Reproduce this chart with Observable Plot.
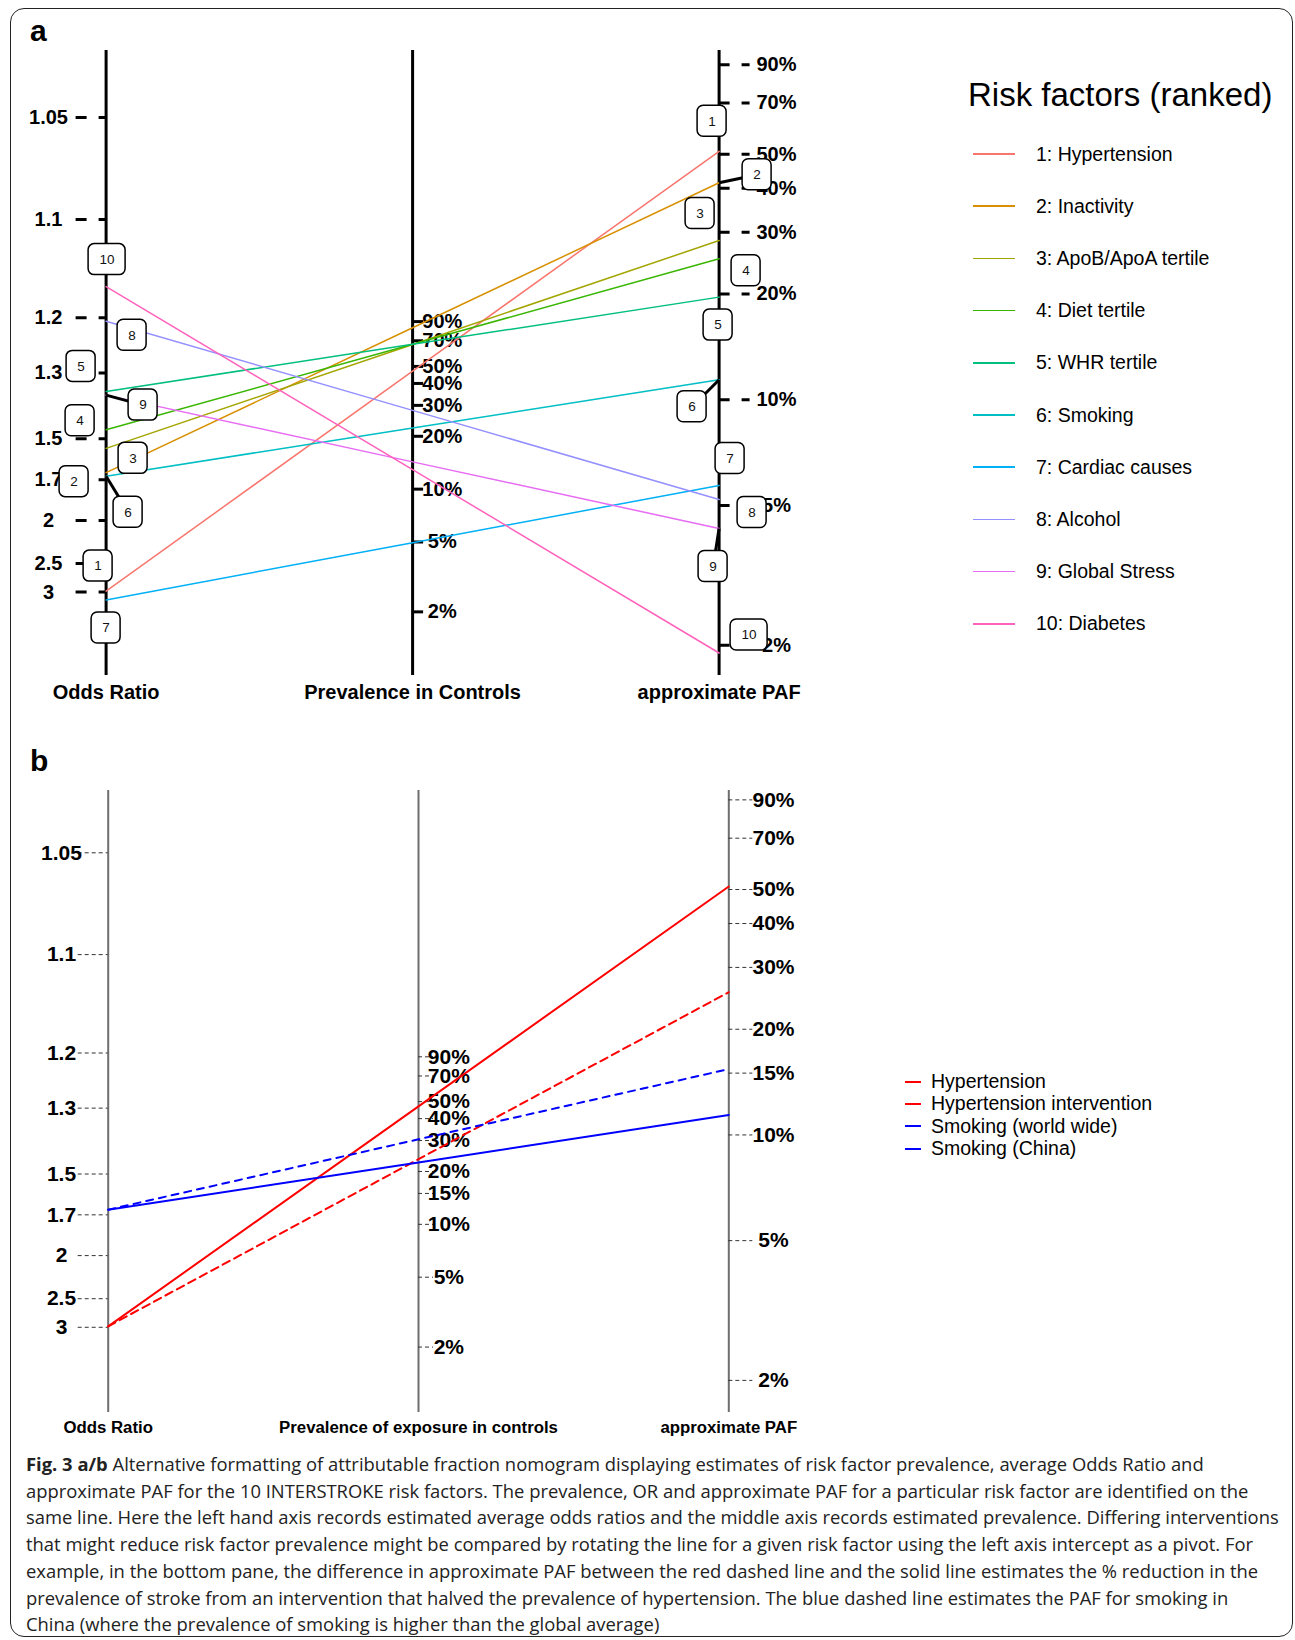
<!DOCTYPE html>
<html>
<head>
<meta charset="utf-8">
<script src="https://cdn.jsdelivr.net/npm/d3@7"></script>
<script src="https://cdn.jsdelivr.net/npm/@observablehq/plot@0.6"></script>
<style>
  body { margin: 0; background: #fff; }
  #page { position: relative; width: 1295px; height: 1640px; overflow: hidden; background: #fff;
          font-family: "Liberation Sans", Arial, sans-serif; color: #000; }
  #frame { position: absolute; left: 10px; top: 8px; width: 1283px; height: 1629px;
           border: 1.5px solid #222; border-radius: 14px; box-sizing: border-box; }
  .tag { position: absolute; font-weight: bold; font-size: 30px; line-height: 30px; }
  .chart { position: absolute; left: 0; }
  .legend-title { position: absolute; font-size: 33px; line-height: 40px; white-space: nowrap; }
  .legend-item { position: absolute; display: flex; align-items: center; white-space: nowrap; }
  #caption { position: absolute; left: 26px; top: 1451px; font-family: "Open Sans", sans-serif;
             font-size: 18.4px; line-height: 26.7px; color: #222; white-space: nowrap; }
</style>
</head>
<body>
<div id="page">
  <div id="frame"></div>
  <div class="tag" style="left:30px; top:16px;">a</div>
  <div class="tag" style="left:30px; top:746px;">b</div>
  <div id="chartA" class="chart" style="top:0px;"></div>
  <div id="legendA"></div>
  <div id="chartB" class="chart" style="top:740px;"></div>
  <div id="legendB"></div>
  <div id="caption"><b>Fig. 3 a/b</b> Alternative formatting of attributable fraction nomogram displaying estimates of risk factor prevalence, average Odds Ratio and<br>approximate PAF for the 10 INTERSTROKE risk factors. The prevalence, OR and approximate PAF for a particular risk factor are identified on the<br>same line. Here the left hand axis records estimated average odds ratios and the middle axis records estimated prevalence. Differing interventions<br>that might reduce risk factor prevalence might be compared by rotating the line for a given risk factor using the left axis intercept as a pivot. For<br>example, in the bottom pane, the difference in approximate PAF between the red dashed line and the solid line estimates the % reduction in the<br>prevalence of stroke from an intervention that halved the prevalence of hypertension. The blue dashed line estimates the PAF for smoking in<br>China (where the prevalence of smoking is higher than the global average)</div>
</div>
<script>
// ---- Panel a: the ten INTERSTROKE risk factors (ranked) ----
const factors = ["Hypertension", "Inactivity", "ApoB/ApoA tertile", "Diet tertile", "WHR tertile",
                 "Smoking", "Cardiac causes", "Alcohol", "Global Stress", "Diabetes"];
const oddsRatio  = [2.98, 1.66, 1.54, 1.465, 1.345, 1.68, 3.17, 1.205, 1.355, 1.16];
const prevalence = [0.47, 0.83, 0.667, 0.668, 0.668, 0.223, 0.0495, 0.281, 0.143, 0.129];
const approxPAF  = [0.51, 0.415, 0.284, 0.252, 0.196, 0.114, 0.057, 0.052, 0.043, 0.019];

// ---- Panel b: hypertension and smoking scenarios ----
const scenarios   = ["Hypertension", "Hypertension intervention", "Smoking (world wide)", "Smoking (China)"];
const scenarioOR   = [2.98, 2.98, 1.67, 1.67];
const scenarioPrev = [0.47, 0.235, 0.225, 0.305];
const scenarioPAF  = [0.51, 0.255, 0.114, 0.154];

// ---- Axis tick values ----
const orTicks    = [1.05, 1.1, 1.2, 1.3, 1.5, 1.7, 2, 2.5, 3];
const prevTicksA = [0.9, 0.7, 0.5, 0.4, 0.3, 0.2, 0.1, 0.05, 0.02];
const pafTicksA  = [0.9, 0.7, 0.5, 0.4, 0.3, 0.2, 0.1, 0.05, 0.02];
const prevTicksB = [0.9, 0.7, 0.5, 0.4, 0.3, 0.2, 0.15, 0.1, 0.05, 0.02];
const pafTicksB  = [0.9, 0.7, 0.5, 0.4, 0.3, 0.2, 0.15, 0.1, 0.05, 0.02];

// ---- Styles ----
const factorColors   = ["#F8766D", "#D89000", "#A3A500", "#39B600", "#00BF7D",
                        "#00BFC4", "#00B0F6", "#9590FF", "#E76BF3", "#FF62BC"];
const scenarioColors = ["#FF0000", "#FF0000", "#0000FF", "#0000FF"];
const scenarioDash   = [null, "8,5", null, "7,6"];

// Rank-tag placement (pixel nudges from the line's axis intercept) and leader lines
const leftTagNudge  = [[-8,-25],[-32,9],[27,10],[-26,-9],[-25,-25],[22,36],[0,28],[26,14],[37,10],[1,-27]];
const rightTagNudge = [[-7,-30],[38,-8],[-19,-27],[27,12],[-1,28],[-27,27],[11,-27],[33,13],[-6,38],[30,-18]];
const leftLeaders  = [6, 9];
const rightLeaders = [2, 6, 9];

// ---- Nomogram scales: all three axes share one linear "u" coordinate ----
// right axis: log PAF; middle axis: half-weight log prevalence; left axis closes the triangle
const M0 = -1.7375, OR_EXP = 0.55;
const uPAF  = v => Math.log(v);
const uPrev = v => 0.5 * Math.log(v) + M0;
const uOR   = v => 2 * M0 - (Math.log(v - 1) - OR_EXP * Math.log(v));
const pct = d => Math.round(d * 100) + "%";

const UY = 152.5;                 // px per u unit
const FONT = "'Liberation Sans', Arial, sans-serif";

// ================= Panel a =================
const xA = [105.6, 718.6];
const UXa = (xA[1] - xA[0]) / 2;

const rowsA = factors.flatMap((f, i) => [
  {name: f, x: 0, u: uOR(oddsRatio[i])},
  {name: f, x: 1, u: uPrev(prevalence[i])},
  {name: f, x: 2, u: uPAF(approxPAF[i])}
]);

const tagsA = factors.flatMap((f, i) => [
  {rank: i + 1, x0: 0, u0: uOR(oddsRatio[i]), nudge: leftTagNudge[i], leader: leftLeaders.includes(i + 1)},
  {rank: i + 1, x0: 2, u0: uPAF(approxPAF[i]), nudge: rightTagNudge[i], leader: rightLeaders.includes(i + 1)}
]).map(t => ({
  ...t,
  cx: t.x0 + t.nudge[0] / UXa,
  cu: t.u0 - t.nudge[1] / UY,
  hw: (t.rank >= 10 ? 18.5 : 14.5) / UXa,
  hh: 15.5 / UY
}));

const chartA = Plot.plot({
  width: 900, height: 720,
  marginTop: 50, marginBottom: 45, marginLeft: 0, marginRight: 0,
  x: {domain: [0, 2], range: xA, axis: null},
  y: {domain: [0, -4], range: [48.1, 48.1 + 4 * UY], axis: null},
  color: {domain: factors, range: factorColors},
  style: {fontFamily: FONT, background: "transparent", overflow: "visible"},
  marks: [
    Plot.ruleX([0, 1, 2], {stroke: "black", strokeWidth: 3}),
    // odds ratio axis
    Plot.ruleY(orTicks, {y: uOR, x1: -30 / UXa, x2: 0, stroke: "black", strokeWidth: 3, strokeDasharray: "11,12"}),
    Plot.text(orTicks, {x: 0, y: uOR, text: d => String(d), dx: -57.6, fontSize: 20, fontWeight: "bold"}),
    // prevalence axis
    Plot.ruleY(prevTicksA, {y: uPrev, x1: 1, x2: 1 + 11 / UXa, stroke: "black", strokeWidth: 3}),
    Plot.text(prevTicksA, {x: 1, y: uPrev, text: pct, dx: 29.7, fontSize: 20, fontWeight: "bold"}),
    // PAF axis
    Plot.ruleY(pafTicksA, {y: uPAF, x1: 2, x2: 2 + 31 / UXa, stroke: "black", strokeWidth: 3, strokeDasharray: "11,12"}),
    Plot.text(pafTicksA, {x: 2, y: uPAF, text: pct, dx: 57.4, fontSize: 20, fontWeight: "bold"}),
    // risk factor lines
    Plot.line(rowsA, {x: "x", y: "u", z: "name", stroke: "name", strokeWidth: 1.5}),
    // rank tags
    Plot.link(tagsA.filter(t => t.leader), {x1: "x0", y1: "u0", x2: "cx", y2: "cu", stroke: "black", strokeWidth: 3}),
    Plot.rect(tagsA, {x1: t => t.cx - t.hw, x2: t => t.cx + t.hw, y1: t => t.cu - t.hh, y2: t => t.cu + t.hh,
                      rx: 6, fill: "white", stroke: "black", strokeWidth: 1.5}),
    Plot.text(tagsA, {x: "cx", y: "cu", text: "rank", fontSize: 13.5, fill: "#111"}),
    // axis titles
    Plot.text(["Odds Ratio", "Prevalence in Controls", "approximate PAF"],
              {x: (d, i) => i, frameAnchor: "bottom", lineAnchor: "middle", dy: 17.5, fontSize: 20, fontWeight: "bold"})
  ]
});
document.getElementById("chartA").append(chartA);

// legend a
const legA = document.getElementById("legendA");
const tA = document.createElement("div");
tA.className = "legend-title";
tA.style.left = "968px"; tA.style.top = "75px";
tA.textContent = "Risk factors (ranked)";
legA.append(tA);
factors.forEach((f, i) => {
  const item = document.createElement("div");
  item.className = "legend-item";
  item.style.left = "973px";
  item.style.top = (154 + 52.2 * i - 12) + "px";
  item.style.height = "24px";
  item.style.fontSize = "19.5px";
  item.innerHTML = `<span style="display:inline-block;width:42px;height:1.5px;background:${factorColors[i]};margin-right:21px"></span>${i + 1}: ${f}`;
  legA.append(item);
});

// ================= Panel b =================
const xB = [107.7, 728.3];
const UXb = (xB[1] - xB[0]) / 2;

const rowsB = scenarios.flatMap((s, i) => [
  {name: s, x: 0, u: uOR(scenarioOR[i])},
  {name: s, x: 1, u: uPrev(scenarioPrev[i])},
  {name: s, x: 2, u: uPAF(scenarioPAF[i])}
]);

const chartB = Plot.plot({
  width: 900, height: 700,
  marginTop: 50, marginBottom: 28, marginLeft: 0, marginRight: 0,
  x: {domain: [0, 2], range: xB, axis: null},
  y: {domain: [0, -4], range: [43.3, 43.3 + 4 * UY], axis: null},
  style: {fontFamily: FONT, background: "transparent", overflow: "visible"},
  marks: [
    Plot.ruleX([0, 1, 2], {stroke: "#6e6e6e", strokeWidth: 2}),
    Plot.ruleY(orTicks, {y: uOR, x1: -30 / UXb, x2: 0, stroke: "#333", strokeWidth: 1, strokeDasharray: "4,3"}),
    Plot.text(orTicks, {x: 0, y: uOR, text: d => String(d), dx: -46.7, fontSize: 21, fontWeight: "bold"}),
    Plot.ruleY(prevTicksB, {y: uPrev, x1: 1, x2: 1 + 15 / UXb, stroke: "#333", strokeWidth: 1, strokeDasharray: "4,3"}),
    Plot.text(prevTicksB, {x: 1, y: uPrev, text: pct, dx: 30.3, fontSize: 21, fontWeight: "bold"}),
    Plot.ruleY(pafTicksB, {y: uPAF, x1: 2, x2: 2 + 24 / UXb, stroke: "#333", strokeWidth: 1, strokeDasharray: "4,3"}),
    Plot.text(pafTicksB, {x: 2, y: uPAF, text: pct, dx: 44.7, fontSize: 21, fontWeight: "bold"}),
    ...scenarios.map((s, i) => Plot.line(rowsB.filter(r => r.name === s),
      {x: "x", y: "u", stroke: scenarioColors[i], strokeWidth: 2,
       ...(scenarioDash[i] ? {strokeDasharray: scenarioDash[i]} : {})})),
    Plot.text(["Odds Ratio", "Prevalence of exposure in controls", "approximate PAF"],
              {x: (d, i) => i, frameAnchor: "bottom", lineAnchor: "middle", dy: 15, fontSize: 16.8, fontWeight: "bold"})
  ]
});
document.getElementById("chartB").append(chartB);

// legend b
const legB = document.getElementById("legendB");
scenarios.forEach((s, i) => {
  const item = document.createElement("div");
  item.className = "legend-item";
  item.style.left = "905px";
  item.style.top = (1081.5 + 22.35 * i - 11) + "px";
  item.style.height = "22px";
  item.style.fontSize = "19.5px";
  item.innerHTML = `<span style="display:inline-block;width:16px;height:2px;background:${scenarioColors[i]};margin-right:10px"></span>${s}`;
  legB.append(item);
});
</script>
</body>
</html>
